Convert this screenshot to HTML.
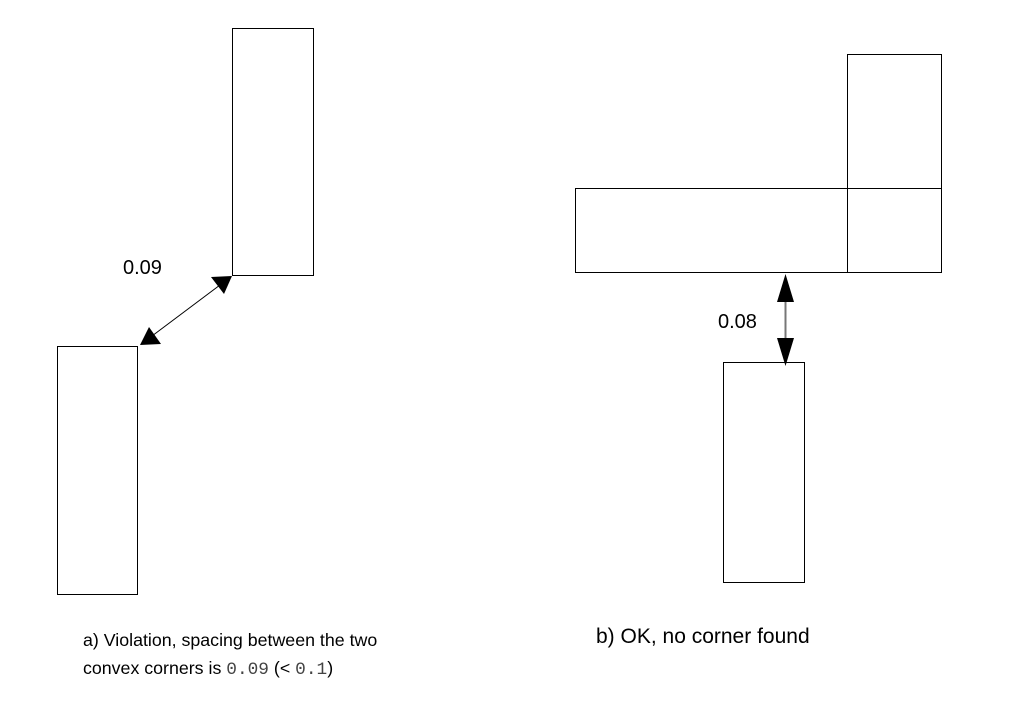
<!DOCTYPE html>
<html><head><style>
body{margin:0;background:#fff}
svg text{font-family:"Liberation Sans",sans-serif;font-size:17.8px;fill:#000}
</style></head><body>
<svg width="1013" height="712" viewBox="0 0 1013 712" xmlns="http://www.w3.org/2000/svg">
<g fill="none" stroke="#000" stroke-width="1">
<rect x="232.5" y="28.5" width="81" height="247"/>
<rect x="57.5" y="346.5" width="80" height="248"/>
<rect x="847.5" y="54.5" width="94" height="218"/>
<rect x="575.5" y="188.5" width="366" height="84"/>
<rect x="723.5" y="362.5" width="81" height="220"/>
<line x1="220" y1="285" x2="152" y2="336"/>
<line x1="785.5" y1="298" x2="785.5" y2="340" stroke="#777" stroke-width="2"/>
</g>
<polygon points="232,276 224,294 211,277" fill="#000"/>
<polygon points="140,345 149,327 161,344" fill="#000"/>
<polygon points="785.5,274 777,302 794,302" fill="#000"/>
<polygon points="785.5,366 777,338 794,338" fill="#000"/>
<text x="123" y="274" style="font-size:20px">0.09</text>
<text x="718" y="328" style="font-size:20px">0.08</text>
<text x="83" y="646">a) Violation, spacing between the two</text>
<text x="83" y="674">convex corners is <tspan font-family="Liberation Mono" fill="#444">0.09</tspan> (&lt; <tspan font-family="Liberation Mono" fill="#444">0.1</tspan>)</text>
<text x="596" y="643" style="font-size:21px">b) OK, no corner found</text>
</svg>
</body></html>
